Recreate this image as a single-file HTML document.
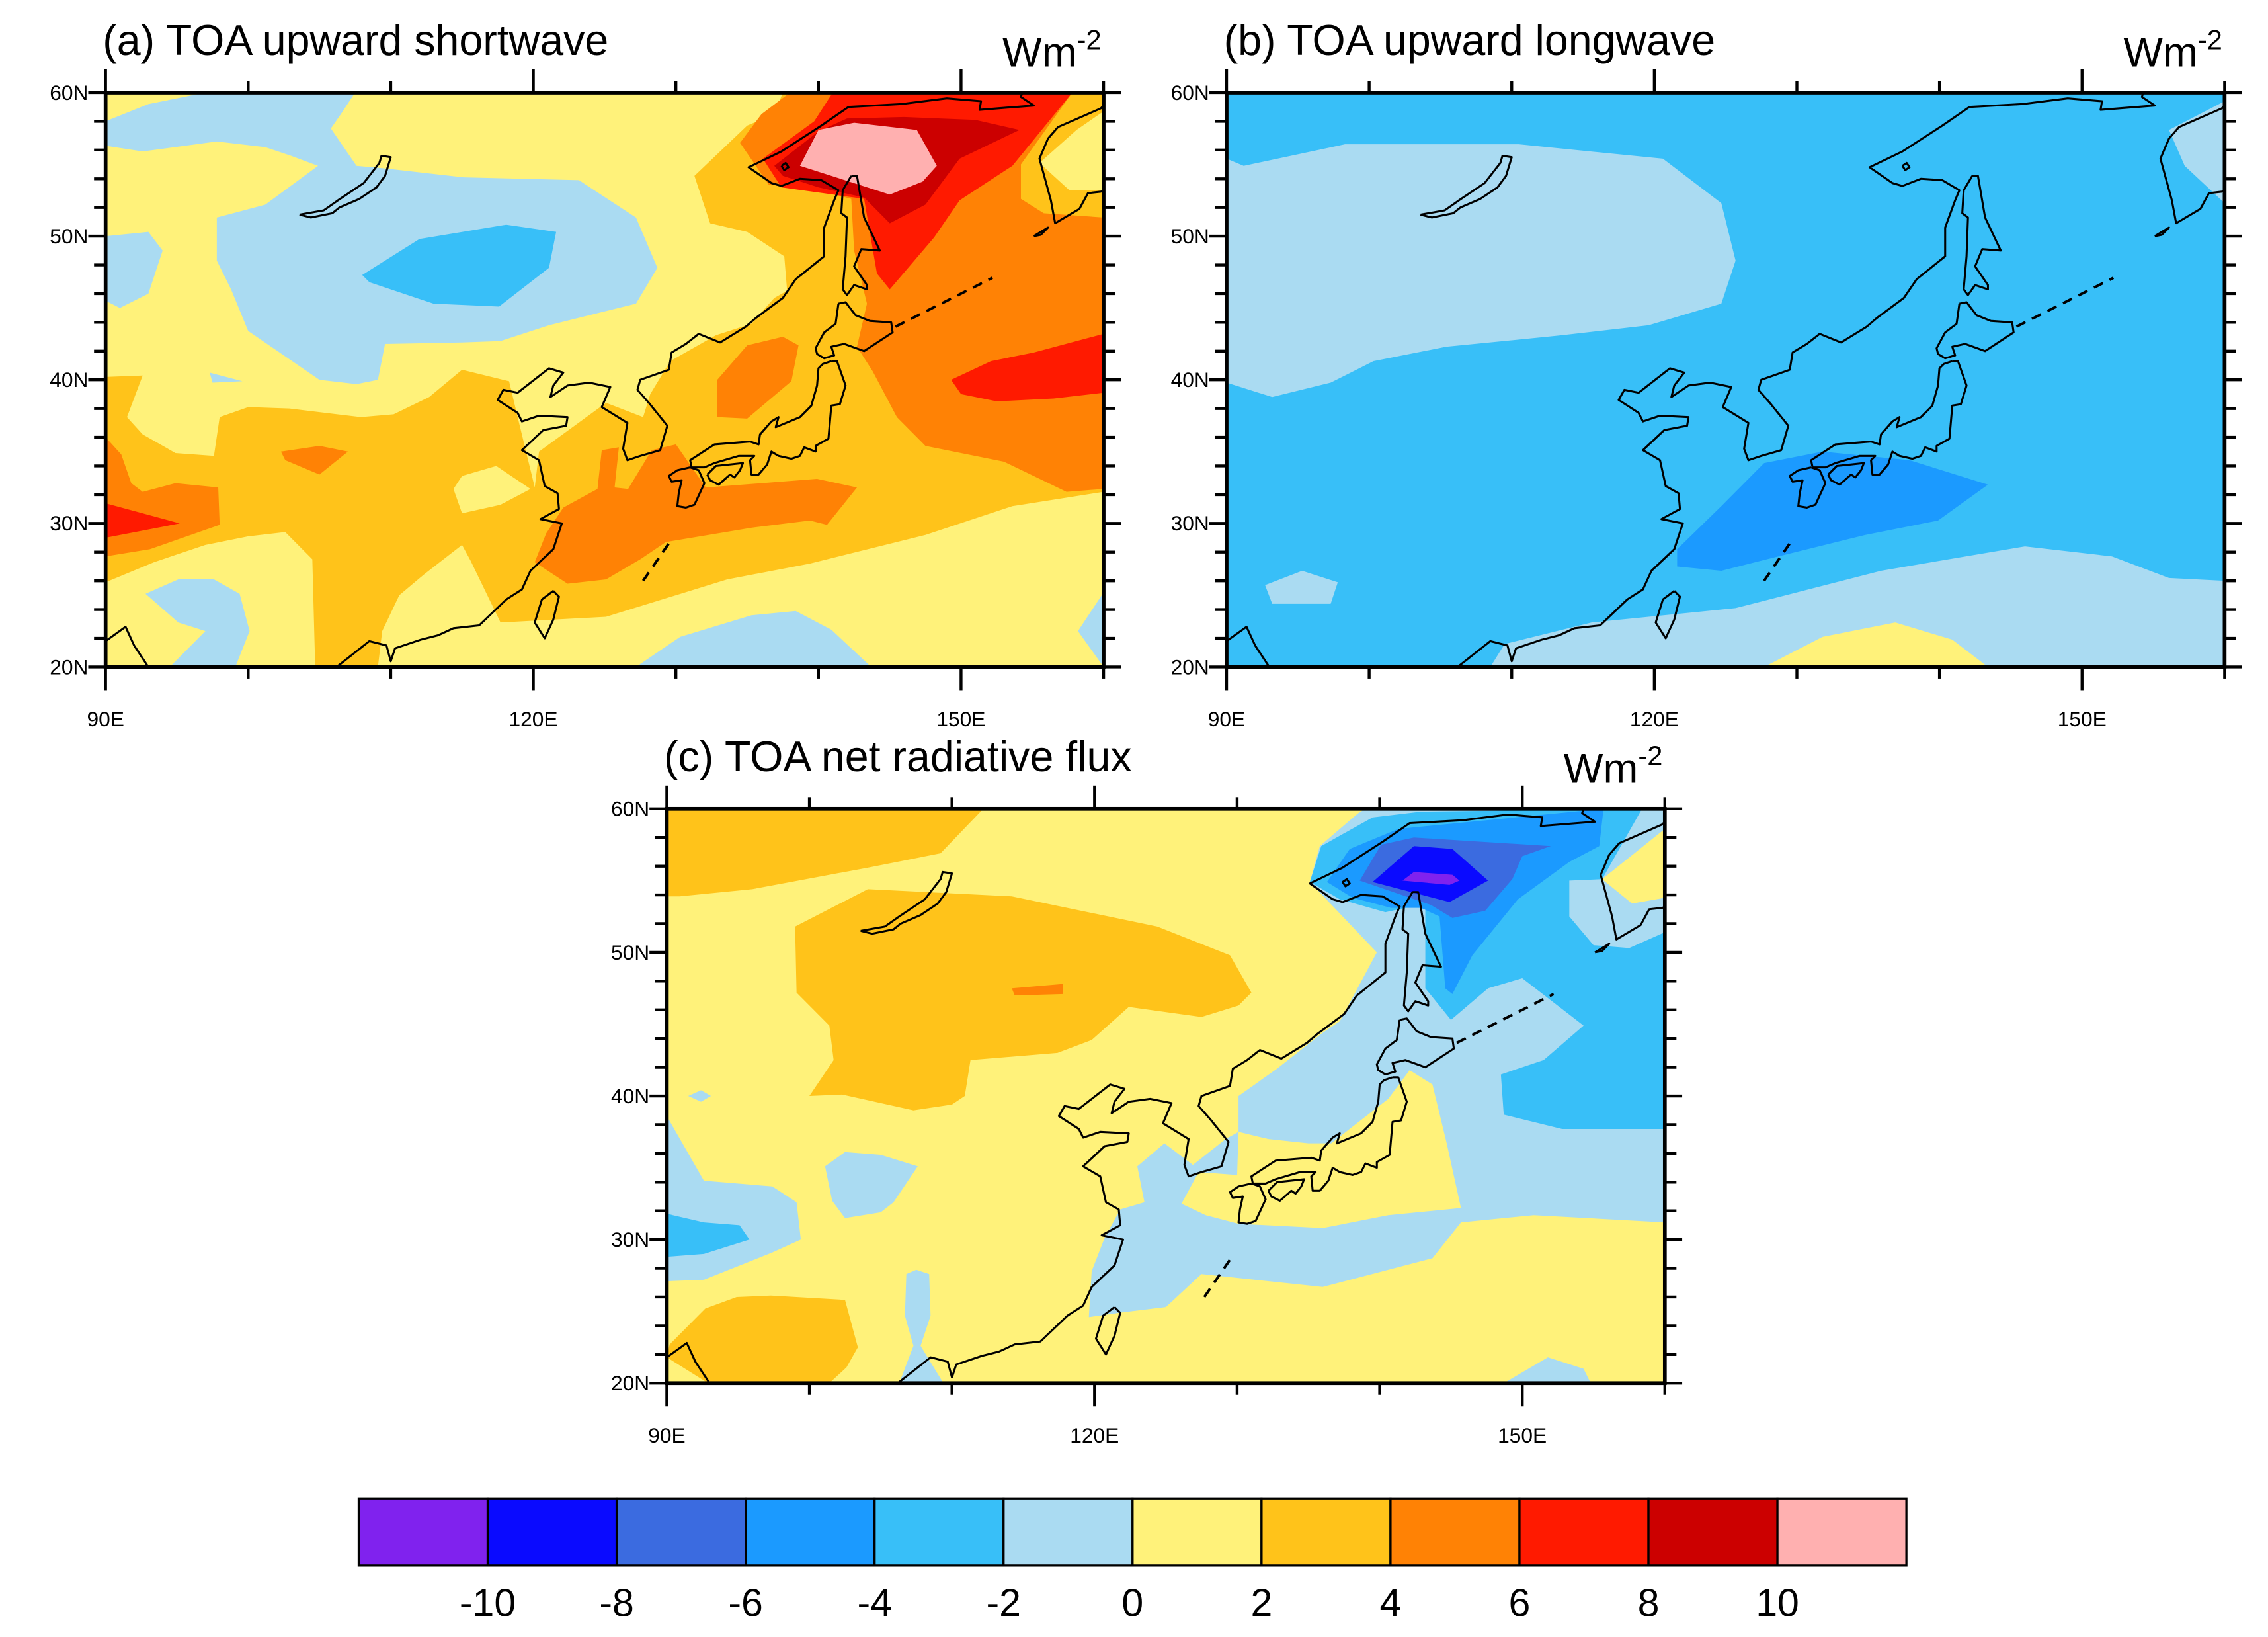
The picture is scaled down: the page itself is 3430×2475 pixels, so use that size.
<!DOCTYPE html>
<html><head><meta charset="utf-8"><style>
html,body{margin:0;padding:0;background:#fff;}
svg{display:block;font-family:"Liberation Sans",Arial,sans-serif;}
</style></head><body>
<svg id="fig" width="3430" height="2475" viewBox="0 0 1568 1131.43" preserveAspectRatio="none" xmlns="http://www.w3.org/2000/svg"></svg>
<script>
// ---- data ----
const levels = [-10,-8,-6,-4,-2,0,2,4,6,8,10];
const colors = ["#8022EE","#0A0AFF","#3B6BE0","#1B9AFF","#38BFF8","#AADBF2","#FFF27A","#FFC31A","#FF8205","#FF1A00","#CC0000","#FFB0B0"];
const lonTicks = [90,120,150];
const lonTickLabels = ["90E","120E","150E"];
const latTicks = [20,30,40,50,60];
const latTickLabels = ["20N","30N","40N","50N","60N"];
// filled contour regions: [colour index, polygon in lon/lat]
const fieldA = [
 [7,[[90,40.2],[92.6,40.3],[91.5,37.4],[92.6,36.2],[94.9,34.9],[97.6,34.7],[98,37.4],[100,38.1],[102.9,38],[107.9,37.4],[110.2,37.6],[112.7,38.8],[115,40.7],[118.3,39.9],[119,37],[120.1,32.5],[120.4,35],[125.1,38.4],[127.7,37.4],[128.2,39],[129.6,41.3],[132.8,43.1],[135.3,43.9],[136.9,45.7],[137.8,46.2],[137.6,48.6],[135,50.3],[132.4,50.9],[131.3,54.2],[135,57.7],[136.9,58.5],[137.5,60],[160,60],[160,32.2],[153.6,31.2],[147.5,29.2],[139.4,27.2],[133.6,26.1],[125.1,23.5],[117.7,23.1],[115.6,27.4],[115,28.5],[112.4,26.5],[110.6,25],[109.4,22.5],[109.1,20],[104.7,20],[104.5,27.5],[102.6,29.4],[100,29.1],[97,28.5],[93.4,27.3],[90,25.9]]],
 [5,[[97.8,51.3],[101.2,52.2],[104.9,54.9],[103,55.6],[101.2,56.2],[97.8,56.6],[92.6,55.9],[90,56.3],[90,58],[93,59.2],[97,60],[107.5,60],[106.5,58.5],[105.8,57.5],[107.6,54.9],[109.8,54.7],[115.1,54.1],[123.2,53.9],[127.2,51.3],[128.7,47.8],[127.2,45.3],[121.1,43.8],[117.7,42.7],[115,42.6],[109.6,42.5],[109.1,40],[107.6,39.7],[105,40],[100,43.4],[98.8,46.3],[97.8,48.3]]],
 [5,[[90,50],[93,50.3],[94,49],[93,46],[91,45],[90,45.5]]],
 [5,[[97.3,40.5],[99.6,39.9],[97.5,39.8]]],
 [4,[[108,47.3],[112,49.8],[118.1,50.8],[121.6,50.3],[121.1,47.8],[117.6,45.1],[113,45.3],[108.5,46.8]]],
 [5,[[92.8,25.1],[95.1,26.1],[97.6,26.1],[99.4,25.1],[100.1,22.5],[99.1,20],[94.5,20],[97,22.5],[95.1,23.1]]],
 [5,[[127.2,20],[130.3,22.1],[135.3,23.6],[138.4,23.9],[140.9,22.6],[143.7,20]]],
 [5,[[158.2,22.5],[160,25.2],[160,20]]],
 [6,[[115,33.3],[117.4,34],[119.8,32.4],[117.7,31.3],[115,30.7],[114.4,32.4]]],
 [8,[[134.5,56.5],[136,58.5],[138,60],[157.8,60],[154.2,55],[154.2,52.6],[155.8,51.6],[160,51.3],[160,32.4],[157.4,32.2],[153,34.3],[147.5,35.4],[145.5,37.4],[143.8,40.6],[142.7,42.3],[143.4,45.3],[142.5,49],[142.3,52.6],[140,53.2],[136.5,53.6]]],
 [6,[[155.5,55.1],[158.1,57.4],[160,58.7],[160,53.2],[157.6,53.2]]],
 [8,[[120.1,27.3],[120.9,29.3],[122.1,31.1],[124.5,32.4],[124.8,35.1],[126,35.3],[125.7,32.5],[126.65,32.4],[128.3,35.1],[130,35.5],[132.1,32.5],[139.9,33.1],[142.7,32.5],[140.6,29.9],[139.4,30.2],[135.3,29.7],[129.3,28.7],[127.5,27.5],[125.1,26.1],[122.4,25.8]]],
 [8,[[132.9,40],[135,42.4],[137.5,43],[138.6,42.4],[138.1,39.9],[135,37.3],[132.9,37.4]]],
 [8,[[90,36],[91.1,34.8],[91.8,32.8],[92.6,32.2],[94.9,32.8],[97.9,32.5],[98,29.9],[93.1,28.2],[90,27.7]]],
 [8,[[102.3,35],[105,35.4],[107,35],[105,33.4],[102.6,34.4]]],
 [9,[[90,31.4],[95.2,30],[90,29]]],
 [9,[[136.1,55.4],[139.7,58],[141,60],[157.8,60],[153.6,54.9],[149.9,52.5],[148.1,49.9],[145,46.3],[144.1,47.4],[143.2,52.6],[137.4,53.4]]],
 [9,[[149.3,40],[152.1,41.3],[155.1,41.9],[160,43.2],[160,39.1],[156.5,38.7],[152.5,38.5],[150,39]]],
 [10,[[136.9,54.9],[140,57.3],[142,58.2],[146,58.3],[151,58.1],[154.1,57.4],[149.9,55.4],[147.5,52.2],[145,50.9],[143.2,52.7],[140,53.4],[137.5,54.2]]],
 [11,[[138.7,54.9],[140,57.4],[142.5,57.9],[146.9,57.4],[148.3,54.9],[147.3,53.8],[145,52.9],[142.8,53.6]]]
];
const bgA = 6;
const fieldB = [
 [5,[[90,55.4],[91.2,54.9],[98.3,56.4],[110.5,56.4],[120.6,55.4],[124.7,52.3],[125.7,48.3],[124.7,45.3],[119.6,43.8],[113.5,43.1],[105.4,42.3],[100.3,41.3],[97.3,39.8],[93.2,38.8],[90,39.8]]],
 [5,[[156.1,57.4],[160,59.4],[160,52.3],[157.2,54.9]]],
 [5,[[108.5,20],[109.5,21.6],[115.6,23.1],[125.7,24.1],[135.9,26.7],[146,28.4],[152.1,27.7],[156.1,26.2],[160,26],[160,20]]],
 [5,[[92.7,25.7],[95.3,26.7],[97.8,25.9],[97.3,24.4],[93.2,24.4]]],
 [6,[[127.7,20],[131.8,22.1],[136.9,23.1],[140.9,21.9],[143.4,20]]],
 [3,[[121.6,28.2],[124.7,31.2],[127.7,34.2],[131.8,35],[137.9,34.4],[143.4,32.7],[139.9,30.2],[134.8,29.2],[128.7,27.7],[124.7,26.7],[121.6,27]]]
];
const bgB = 4;
const fieldC = [
 [7,[[90,60],[112.2,60],[109.2,56.9],[104.1,55.9],[96,54.4],[90.9,53.9],[90,53.9]]],
 [7,[[99,51.8],[104.1,54.4],[114.2,53.9],[124.4,51.8],[129.5,49.8],[131,47.2],[130.1,46.3],[127.5,45.5],[122.4,46.2],[119.8,43.9],[117.4,43],[111.3,42.5],[110.9,40],[110,39.4],[107.3,39],[102.3,40.1],[100,40],[101.7,42.5],[101.4,44.9],[99.1,47.2]]],
 [7,[[90.2,22.7],[92.7,25.2],[94.9,26],[97.3,26.1],[102.5,25.8],[103.4,22.5],[102.6,21.1],[101.4,20],[92.9,20],[90,21.8]]],
 [8,[[114.2,47.5],[117.8,47.8],[117.8,47.1],[114.4,47]]],
 [5,[[90,38.6],[92.6,34.1],[97.4,33.7],[99.1,32.6],[99.4,30],[97.4,29.1],[92.6,27.2],[90,27.1]]],
 [4,[[90,31.8],[92.6,31.2],[95.1,31],[95.8,30],[92.6,29],[90,28.8]]],
 [5,[[102.5,36.1],[105,35.9],[107.6,35.1],[105.9,32.6],[105,31.9],[102.5,31.5],[101.6,32.7],[101.1,35.1]]],
 [5,[[106.8,27.6],[107.5,27.9],[108.4,27.6],[108.5,24.7],[107.8,22.6],[109.4,20],[106.3,20],[107.3,22.6],[106.7,24.7]]],
 [5,[[91.5,40],[92.4,40.4],[93.1,40],[92.4,39.6]]],
 [5,[[148.7,20],[151.8,21.8],[154.3,21],[154.8,20]]],
 [5,[[139,60],[160,60],[160,31.2],[150.8,31.7],[145.7,31.2],[143.7,28.7],[136,26.7],[127.5,27.6],[125,25.3],[121.7,24.9],[119.6,24.6],[119.8,27.8],[120.7,30.1],[121.8,32.1],[123.5,32.6],[123,35.1],[124.9,36.7],[126.9,35.2],[129.2,37],[130.1,37.5],[130.1,40],[132.8,41.9],[136,44.4],[137.2,45.2],[139.8,50],[135.1,54.9],[135.8,57.4],[138.5,59.7]]],
 [6,[[126.1,32.5],[127.8,31.7],[130.1,31.1],[136,30.8],[140.6,31.7],[145.7,32.2],[144.7,36.7],[143.7,40.8],[142.1,41.8],[140.6,39.8],[136.6,36.7],[135,36.7],[132.2,37],[130.1,37.5],[130,34.5],[127.3,34.7]]],
 [6,[[155.6,55.1],[160,58.6],[160,53.8],[157.7,53.4]]],
 [4,[[135.1,54.9],[135.9,57.4],[139.5,59.4],[142.9,59.8],[158.4,60],[155.6,55.1],[153.3,55],[153.3,52.5],[155,50.5],[157.5,50.3],[160,51.4],[160,37.7],[152.8,37.7],[148.7,38.7],[148.5,41.5],[151.5,42.5],[154.3,44.9],[150,48.2],[147.6,47.5],[145,45.3],[143.2,47.5],[143.2,53.4],[140.4,52.8],[137.2,53.7]]],
 [3,[[136.3,54.9],[137.9,57.2],[141.3,58.6],[155.7,60],[155.4,57.4],[153.3,56.3],[149.7,53.7],[146.5,49.8],[145.1,47.1],[144.6,47.5],[144.2,52.5],[142.9,53.1],[140.8,53.1],[138.1,53.8]]],
 [2,[[138.6,55],[140.1,57.5],[142.4,58],[152,57.4],[150,56.7],[149.3,55.1],[147.4,52.9],[145.1,52.4],[143.6,53.3]]],
 [1,[[139.5,54.9],[142.4,57.4],[145.1,57.2],[147.6,55],[144.9,53.5]]],
 [0,[[141.6,55],[142.4,55.6],[145.1,55.4],[145.6,55],[144.9,54.7]]]
];
const bgC = 6;
// coastlines (lon/lat)
const coasts = [
 [[106.2,20],[108.5,21.8],[109.7,21.5],[110,20.4],[110.3,21.3],[112.1,21.9],[113.3,22.2],[114.4,22.7],[116.2,22.9],[118.1,24.7],[119.2,25.4],[119.8,26.7],[121.4,28.2],[122,30],[120.5,30.3],[121.8,31],[121.7,32.1],[120.8,32.6],[120.4,34.4],[119.2,35.1],[120.7,36.5],[122.3,36.8],[122.4,37.4],[120.4,37.5],[119.2,37.1],[118.9,37.7],[117.5,38.6],[117.9,39.3],[118.9,39.1],[121.1,40.8],[122.1,40.5],[121.4,39.6],[121.2,38.8],[122.4,39.6],[123.9,39.8],[125.4,39.5],[124.8,38.1],[126.6,37],[126.3,35.2],[126.6,34.4],[127.5,34.7],[128.9,35.1],[129.4,36.8],[128.1,38.4],[127.3,39.3],[127.5,40],[129.5,40.7],[129.7,41.9],[130.7,42.5],[131.6,43.2],[133.1,42.6],[134.9,43.7],[135.6,44.3],[137.5,45.7],[138.4,47],[140.4,48.6],[140.4,50.6],[141.1,52.5],[141.4,53.2],[140.2,53.9],[138.7,54],[137.4,53.5],[136.7,53.7],[135.1,54.8],[137.4,55.9],[140.2,57.7],[142.1,59],[145.8,59.2],[149,59.6],[151.4,59.4],[151.3,58.8],[155.1,59.1],[154.2,59.7],[154.6,61]],
 [[160,59.1],[159.8,58.9],[156.8,57.6],[156.1,56.8],[155.5,55.4],[156.3,52.5],[156.6,50.9],[158.3,51.9],[158.9,53],[159.8,53.1],[160.5,53.3]],
 [[137.4,54.9],[137.7,55.1],[137.9,54.8],[137.6,54.6],[137.4,54.9]],
 [[142.3,54.2],[142.7,54.2],[143.2,51.3],[144.3,49],[143,49.1],[142.5,47.9],[143.4,46.6],[143.4,46.3],[142.5,46.6],[142,45.9],[141.7,46.3],[141.9,48.6],[142,51.3],[141.6,51.6],[141.7,53.2],[142.3,54.2]],
 [[141.4,45.3],[141.9,45.4],[142.6,44.5],[143.6,44.1],[145.1,44],[145.2,43.3],[143.2,42],[141.8,42.5],[140.9,42.3],[141.1,41.7],[140.4,41.5],[139.9,41.8],[139.8,42.2],[140.4,43.3],[141.2,43.9],[141.4,45.3]],
 [[140.9,41.3],[141.3,41.3],[141.9,39.6],[141.5,38.3],[140.9,38.2],[140.7,35.9],[139.8,35.4],[139.8,35],[139,35.3],[138.7,34.7],[138.1,34.5],[137.2,34.7],[136.7,35],[136.4,34.1],[135.8,33.4],[135.3,33.4],[135.2,34.4],[135.5,34.7],[134.4,34.7],[132.7,34.2],[132,33.9],[131.1,33.9],[131,34.4],[132.7,35.5],[135.2,35.7],[135.8,35.5],[135.9,36.2],[136.7,37.1],[137.2,37.4],[137,36.7],[138.7,37.4],[139.5,38.2],[139.9,39.6],[140,40.8],[140.3,41.1],[140.9,41.3]],
 [[131,33.9],[131.6,33.7],[132,32.8],[131.3,31.3],[130.7,31.1],[130.1,31.2],[130.2,32.1],[130.4,33],[129.7,32.9],[129.5,33.3],[130.1,33.7],[131,33.9]],
 [[132.2,33.4],[132.8,34],[134.7,34.2],[134.5,33.7],[134.1,33.2],[133.8,33.4],[133,32.7],[132.4,33],[132.2,33.4]],
 [[121.4,25.3],[121.8,24.9],[121.4,23.3],[120.8,22],[120.1,23.1],[120.6,24.7],[121.4,25.3]],
 [[90,21.8],[91.4,22.8],[92,21.5],[93,20]],
 [[103.6,51.5],[105.3,51.8],[106.3,52.5],[108.1,53.7],[109.2,55.1],[109.35,55.6],[110,55.5],[109.6,54.2],[109,53.4],[107.8,52.6],[106.4,52],[105.9,51.6],[104.4,51.3],[103.6,51.5]],
 [[155.1,50],[156.1,50.6],[155.6,50.1],[155.1,50]]
];
const dashed = [[[145.4,43.7],[152.2,47.1]],[[127.7,26],[129.5,28.6]]];
const panels = [
 {id:"a",x:73,y:64,title:"(a) TOA upward shortwave",field:fieldA,bg:bgA},
 {id:"b",x:848,y:64,title:"(b) TOA upward longwave",field:fieldB,bg:bgB},
 {id:"c",x:461,y:559,title:"(c) TOA net radiative flux",field:fieldC,bg:bgC}
];
const W=690,H=397;
const NS="http://www.w3.org/2000/svg";
const svg=document.getElementById("fig");
function mk(tag,attrs,parent){const e=document.createElementNS(NS,tag);for(const k in attrs)e.setAttribute(k,attrs[k]);(parent||svg).appendChild(e);return e;}
const defs=mk("defs",{});
panels.forEach(p=>{
 const xs=lon=>p.x+(lon-90)/70*W;
 const ys=lat=>p.y+(60-lat)/40*H;
 const g=mk("g",{});
 
 
 const cp=mk("clipPath",{id:"clip"+p.id},defs);
 mk("rect",{x:p.x,y:p.y,width:W,height:H},cp);
 const map=mk("g",{"clip-path":"url(#clip"+p.id+")"},g);
 const bg=mk("rect",{x:p.x,y:p.y,width:W,height:H,fill:colors[p.bg]},map);
 
 
 p.field.forEach(f=>{
  const poly=mk("polygon",{points:f[1].map(q=>xs(q[0])+","+ys(q[1])).join(" "),fill:colors[f[0]]},map);
  
  
 });
 coasts.forEach(c=>{
  const pl=mk("polyline",{points:c.map(q=>xs(q[0])+","+ys(q[1])).join(" "),fill:"none",stroke:"#000","stroke-width":1.4,"stroke-linejoin":"round"},map);
  
  
 });
 dashed.forEach(c=>{
  const pl=mk("polyline",{points:c.map(q=>xs(q[0])+","+ys(q[1])).join(" "),fill:"none",stroke:"#000","stroke-width":1.8,"stroke-dasharray":"7 5"},map);
  
  
 });
 const fr=mk("rect",{x:p.x,y:p.y,width:W,height:H,fill:"none",stroke:"#000","stroke-width":2.6},g);
 
 
 for(let lon=90;lon<=160;lon+=10){
  const maj=lonTicks.includes(lon), L=maj?16:8;
  mk("line",{x1:xs(lon),x2:xs(lon),y1:p.y+H,y2:p.y+H+L,stroke:"#000","stroke-width":2},g);
  mk("line",{x1:xs(lon),x2:xs(lon),y1:p.y,y2:p.y-L,stroke:"#000","stroke-width":2},g);
 }
 lonTicks.forEach((lon,i)=>{
  const t=mk("text",{x:xs(lon),y:p.y+H+41,"text-anchor":"middle","font-size":14.5},g);
  t.textContent=lonTickLabels[i];
  
  
 });
 for(let lat=20;lat<=60;lat+=2){
  const maj=latTicks.includes(lat), L=maj?12:8;
  mk("line",{x1:p.x,x2:p.x-L,y1:ys(lat),y2:ys(lat),stroke:"#000","stroke-width":2},g);
  mk("line",{x1:p.x+W,x2:p.x+W+L,y1:ys(lat),y2:ys(lat),stroke:"#000","stroke-width":2},g);
 }
 latTicks.forEach((lat,i)=>{
  const t=mk("text",{x:p.x-12,y:ys(lat)+5,"text-anchor":"end","font-size":14.5},g);
  t.textContent=latTickLabels[i];
  
  
 });
 const tt=mk("text",{x:p.x-2,y:p.y-26,"font-size":29.5},g);
 tt.textContent=p.title;
 
 
 const u=mk("text",{x:p.x+620,y:p.y-18,"font-size":29},g);
 
 
 u.textContent="Wm";
 const sup=mk("tspan",{"font-size":19,dy:-12},u);
 sup.textContent="-2";
});
// colorbar
const cb=mk("g",{});


const cbX=248,cbW=1070,cbY=1036,cbH=46,bw=cbW/colors.length;
colors.forEach((c,i)=>{
 const r=mk("rect",{x:cbX+i*bw,y:cbY,width:bw,height:cbH,fill:c,stroke:"#000","stroke-width":1.5},cb);
 
 
});
levels.forEach((v,i)=>{
 const t=mk("text",{x:cbX+(i+1)*bw,y:1117,"text-anchor":"middle","font-size":27},cb);
 t.textContent=String(v);
 
 
});
</script>
</body></html>
